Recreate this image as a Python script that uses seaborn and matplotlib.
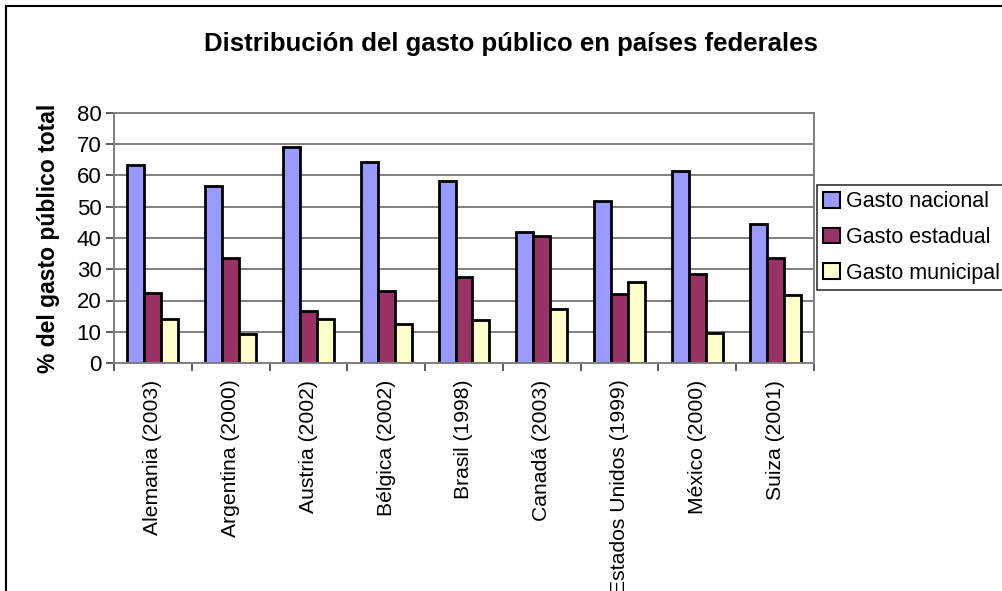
import numpy as np
import pandas as pd
import matplotlib
matplotlib.use("Agg")
import matplotlib.pyplot as plt
from matplotlib.patches import Rectangle
import seaborn as sns

paises = ["Alemania (2003)", "Argentina (2000)", "Austria (2002)", "Bélgica (2002)",
          "Brasil (1998)", "Canadá (2003)", "Estados Unidos (1999)", "México (2000)",
          "Suiza (2001)"]
gasto_nacional = [63.3, 56.7, 69.1, 64.3, 58.3, 41.8, 51.9, 61.4, 44.6]
gasto_estadual = [22.4, 33.6, 16.7, 22.9, 27.6, 40.7, 22.1, 28.6, 33.5]
gasto_municipal = [14.2, 9.4, 14.0, 12.5, 13.8, 17.2, 25.9, 9.7, 21.9]
series = ["Gasto nacional", "Gasto estadual", "Gasto municipal"]
colores = ["#9999FF", "#993366", "#FFFFCC"]

df = pd.DataFrame({
    "pais": paises * 3,
    "valor": gasto_nacional + gasto_estadual + gasto_municipal,
    "serie": [s for s in series for _ in paises],
})

sns.set_theme(style="white")
plt.rcParams["font.family"] = ["Liberation Sans", "DejaVu Sans"]
plt.rcParams["text.color"] = "black"
plt.rcParams["axes.labelcolor"] = "black"

W, H = 1003, 591
fig = plt.figure(figsize=(W / 100, H / 100), dpi=100)
ax = fig.add_axes([114 / W, 1 - 363 / H, 700 / W, 250 / H])

sns.barplot(data=df, x="pais", y="valor", hue="serie", hue_order=series,
            palette=colores, edgecolor="black", linewidth=2.0, width=0.655,
            saturation=1, ax=ax, legend=True)

ax.set_xlim(-0.5, len(paises) - 0.5)
ax.set_ylim(0, 80)
ax.set_yticks(np.arange(0, 81, 10))
ax.yaxis.grid(True, color="#808080", linewidth=1.4)
ax.set_axisbelow(True)
for side, sp in ax.spines.items():
    sp.set_visible(True)
    sp.set_color("#808080")
    sp.set_linewidth(1.4)

# category boundaries carry the tick marks, names sit between them
ax.set_xticks(np.arange(-0.5, len(paises), 1))
ax.set_xticklabels([])
ax.set_xticks(np.arange(len(paises)), minor=True)
ax.set_xticklabels(paises, minor=True, rotation=90, fontsize=15.2, color="black")
ax.tick_params(axis="x", which="major", length=6, width=1.2, color="#404040", direction="out", bottom=True)
ax.tick_params(axis="x", which="minor", length=0, pad=12)
ax.tick_params(axis="y", length=6, width=1.2, color="#404040", direction="out", left=True,
               labelsize=16, labelcolor="black", pad=3)

ax.set_xlabel("")
ax.set_ylabel("% del gasto público total", fontsize=16.5, fontweight="bold", labelpad=12)

ax.legend_.remove()
handles = [Rectangle((0, 0), 1, 1, facecolor=c, edgecolor="black", linewidth=1.5) for c in colores]
fig.legend(handles, series, loc="upper left", bbox_to_anchor=(817 / W, 1 - 185 / H),
           frameon=True, fancybox=False, edgecolor="black", fontsize=15.5,
           handlelength=0.75, handleheight=0.75, handletextpad=0.3,
           borderpad=0.3, labelspacing=0.68, borderaxespad=0)
fig.legends[0].get_frame().set_linewidth(1.2)

fig.text(511 / W, 1 - 44 / H, "Distribución del gasto público en países federales",
         ha="center", va="center", fontsize=18.5, fontweight="bold")

# outer chart border
fig.patches.append(Rectangle((6 / W, -0.2), 1.2, 1.2 - 6 / H, transform=fig.transFigure,
                             fill=False, edgecolor="black", linewidth=1.5))

fig.savefig("out.png", dpi=100)
